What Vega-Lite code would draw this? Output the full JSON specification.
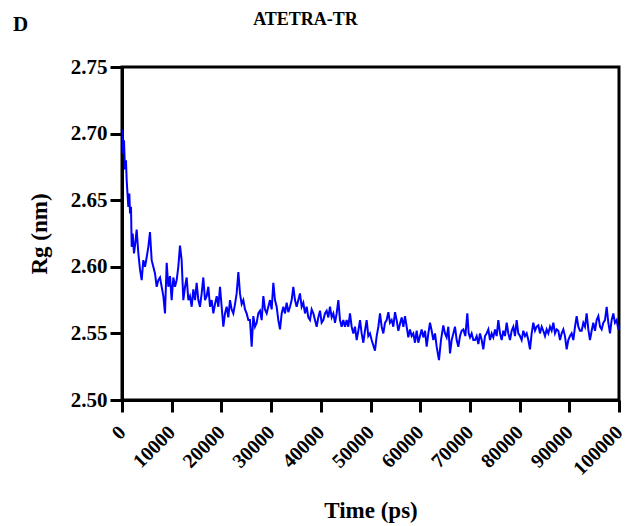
{
  "$schema": "https://vega.github.io/schema/vega-lite/v6.json",
  "autosize": {"type": "none"},
  "width": 497,
  "height": 333,
  "padding": {"left": 122, "top": 67, "right": 17, "bottom": 126},
  "background": "white",
  "title": {"text": "ATETRA-TR", "font": "Liberation Serif", "fontSize": 18, "fontWeight": "bold", "color": "black", "anchor": "middle", "dx": -65, "dy": 30, "offset": 0, "baseline": "alphabetic"},
  "config": {
    "view": {"stroke": "black", "strokeWidth": 3},
    "axis": {"labelFont": "Liberation Serif", "titleFont": "Liberation Serif", "labelFontWeight": "bold", "titleFontWeight": "bold", "labelColor": "black", "titleColor": "black", "domainColor": "black", "tickColor": "black", "domainWidth": 3, "tickWidth": 3, "tickSize": 12, "grid": false}
  },
  "data": {"values": [
    {"t":0,"rg":2.703},{"t":270,"rg":2.685},{"t":400,"rg":2.695},{"t":600,"rg":2.673},{"t":800,"rg":2.68},{"t":940,"rg":2.665},{"t":1270,"rg":2.645},{"t":1480,"rg":2.655},{"t":1610,"rg":2.64},{"t":1810,"rg":2.645},{"t":1950,"rg":2.615},{"t":2150,"rg":2.625},{"t":2410,"rg":2.61},{"t":2680,"rg":2.618},{"t":2950,"rg":2.628},{"t":3290,"rg":2.61},{"t":3620,"rg":2.598},{"t":3960,"rg":2.59},{"t":4290,"rg":2.605},{"t":4630,"rg":2.6},{"t":4960,"rg":2.607},{"t":5300,"rg":2.615},{"t":5630,"rg":2.626},{"t":5970,"rg":2.605},{"t":6300,"rg":2.6},{"t":6640,"rg":2.595},{"t":6980,"rg":2.585},{"t":7310,"rg":2.59},{"t":7650,"rg":2.592},{"t":7980,"rg":2.585},{"t":8320,"rg":2.578},{"t":8650,"rg":2.565},{"t":8990,"rg":2.603},{"t":9320,"rg":2.585},{"t":9660,"rg":2.593},{"t":9990,"rg":2.575},{"t":10330,"rg":2.592},{"t":10660,"rg":2.585},{"t":11000,"rg":2.59},{"t":11330,"rg":2.6},{"t":11670,"rg":2.616},{"t":12000,"rg":2.605},{"t":12340,"rg":2.575},{"t":12680,"rg":2.585},{"t":13010,"rg":2.592},{"t":13350,"rg":2.575},{"t":13680,"rg":2.578},{"t":14020,"rg":2.57},{"t":14350,"rg":2.583},{"t":14690,"rg":2.575},{"t":15020,"rg":2.588},{"t":15360,"rg":2.575},{"t":15690,"rg":2.57},{"t":16030,"rg":2.58},{"t":16360,"rg":2.592},{"t":16700,"rg":2.575},{"t":17030,"rg":2.578},{"t":17370,"rg":2.585},{"t":17710,"rg":2.57},{"t":18040,"rg":2.575},{"t":18380,"rg":2.565},{"t":18710,"rg":2.572},{"t":19050,"rg":2.578},{"t":19380,"rg":2.57},{"t":19720,"rg":2.585},{"t":20050,"rg":2.57},{"t":20390,"rg":2.555},{"t":20720,"rg":2.565},{"t":21060,"rg":2.57},{"t":21390,"rg":2.562},{"t":21730,"rg":2.575},{"t":22060,"rg":2.568},{"t":22400,"rg":2.565},{"t":22740,"rg":2.572},{"t":23070,"rg":2.58},{"t":23410,"rg":2.596},{"t":23740,"rg":2.58},{"t":24080,"rg":2.572},{"t":24410,"rg":2.575},{"t":24750,"rg":2.568},{"t":25080,"rg":2.565},{"t":25420,"rg":2.56},{"t":25750,"rg":2.56},{"t":26090,"rg":2.54},{"t":26420,"rg":2.563},{"t":26760,"rg":2.555},{"t":27100,"rg":2.558},{"t":27430,"rg":2.565},{"t":27770,"rg":2.567},{"t":28100,"rg":2.56},{"t":28440,"rg":2.578},{"t":28770,"rg":2.568},{"t":29110,"rg":2.565},{"t":29440,"rg":2.57},{"t":29780,"rg":2.575},{"t":30110,"rg":2.568},{"t":30450,"rg":2.588},{"t":30780,"rg":2.575},{"t":31120,"rg":2.57},{"t":31450,"rg":2.56},{"t":31790,"rg":2.553},{"t":32130,"rg":2.565},{"t":32460,"rg":2.57},{"t":32800,"rg":2.565},{"t":33130,"rg":2.573},{"t":33470,"rg":2.566},{"t":33800,"rg":2.57},{"t":34140,"rg":2.575},{"t":34470,"rg":2.585},{"t":34810,"rg":2.575},{"t":35140,"rg":2.57},{"t":35480,"rg":2.575},{"t":35810,"rg":2.58},{"t":36150,"rg":2.57},{"t":36480,"rg":2.573},{"t":36820,"rg":2.565},{"t":37160,"rg":2.57},{"t":37490,"rg":2.562},{"t":37830,"rg":2.56},{"t":38160,"rg":2.568},{"t":38500,"rg":2.565},{"t":38830,"rg":2.56},{"t":39170,"rg":2.555},{"t":39500,"rg":2.562},{"t":39840,"rg":2.567},{"t":40170,"rg":2.558},{"t":40510,"rg":2.56},{"t":40840,"rg":2.565},{"t":41180,"rg":2.567},{"t":41510,"rg":2.562},{"t":41850,"rg":2.57},{"t":42190,"rg":2.562},{"t":42520,"rg":2.565},{"t":42860,"rg":2.558},{"t":43190,"rg":2.565},{"t":43530,"rg":2.575},{"t":43860,"rg":2.56},{"t":44200,"rg":2.555},{"t":44530,"rg":2.56},{"t":44870,"rg":2.555},{"t":45200,"rg":2.56},{"t":45540,"rg":2.555},{"t":45870,"rg":2.565},{"t":46210,"rg":2.555},{"t":46540,"rg":2.55},{"t":46880,"rg":2.555},{"t":47220,"rg":2.545},{"t":47550,"rg":2.552},{"t":47890,"rg":2.56},{"t":48220,"rg":2.55},{"t":48560,"rg":2.543},{"t":48890,"rg":2.552},{"t":49230,"rg":2.56},{"t":49560,"rg":2.548},{"t":49900,"rg":2.55},
    {"t":50230,"rg":2.545},{"t":50900,"rg":2.537},{"t":51240,"rg":2.548},{"t":51580,"rg":2.555},{"t":51910,"rg":2.565},{"t":52250,"rg":2.555},{"t":52580,"rg":2.55},{"t":52920,"rg":2.558},{"t":53250,"rg":2.56},{"t":53590,"rg":2.566},{"t":53920,"rg":2.558},{"t":54260,"rg":2.56},{"t":54590,"rg":2.555},{"t":54930,"rg":2.566},{"t":55260,"rg":2.56},{"t":55600,"rg":2.552},{"t":55930,"rg":2.557},{"t":56270,"rg":2.562},{"t":56610,"rg":2.555},{"t":56940,"rg":2.563},{"t":57280,"rg":2.555},{"t":57610,"rg":2.547},{"t":57950,"rg":2.553},{"t":58280,"rg":2.548},{"t":58620,"rg":2.55},{"t":58950,"rg":2.543},{"t":59290,"rg":2.552},{"t":59620,"rg":2.543},{"t":59960,"rg":2.548},{"t":60290,"rg":2.553},{"t":60630,"rg":2.547},{"t":60970,"rg":2.552},{"t":61300,"rg":2.54},{"t":61640,"rg":2.55},{"t":61970,"rg":2.558},{"t":62310,"rg":2.552},{"t":62640,"rg":2.545},{"t":62980,"rg":2.55},{"t":63310,"rg":2.54},{"t":63780,"rg":2.53},{"t":64180,"rg":2.545},{"t":64650,"rg":2.556},{"t":64990,"rg":2.55},{"t":65320,"rg":2.547},{"t":65660,"rg":2.555},{"t":66000,"rg":2.535},{"t":66330,"rg":2.545},{"t":66670,"rg":2.55},{"t":67000,"rg":2.555},{"t":67340,"rg":2.545},{"t":67670,"rg":2.54},{"t":68010,"rg":2.548},{"t":68340,"rg":2.552},{"t":68680,"rg":2.553},{"t":69080,"rg":2.548},{"t":69480,"rg":2.565},{"t":69750,"rg":2.55},{"t":70020,"rg":2.547},{"t":70350,"rg":2.55},{"t":70690,"rg":2.545},{"t":71030,"rg":2.545},{"t":71360,"rg":2.548},{"t":71700,"rg":2.542},{"t":72030,"rg":2.55},{"t":72370,"rg":2.545},{"t":72700,"rg":2.538},{"t":73040,"rg":2.548},{"t":73370,"rg":2.55},{"t":73710,"rg":2.553},{"t":74040,"rg":2.545},{"t":74380,"rg":2.55},{"t":74710,"rg":2.547},{"t":75050,"rg":2.553},{"t":75380,"rg":2.548},{"t":75720,"rg":2.56},{"t":76060,"rg":2.55},{"t":76390,"rg":2.545},{"t":76730,"rg":2.552},{"t":77060,"rg":2.548},{"t":77400,"rg":2.558},{"t":77730,"rg":2.55},{"t":78070,"rg":2.545},{"t":78400,"rg":2.552},{"t":78740,"rg":2.555},{"t":79070,"rg":2.548},{"t":79410,"rg":2.56},{"t":79740,"rg":2.55},{"t":80080,"rg":2.548},{"t":80410,"rg":2.545},{"t":80750,"rg":2.552},{"t":81090,"rg":2.548},{"t":81420,"rg":2.55},{"t":81760,"rg":2.545},{"t":82090,"rg":2.538},{"t":82430,"rg":2.55},{"t":82760,"rg":2.558},{"t":83100,"rg":2.552},{"t":83430,"rg":2.555},{"t":83770,"rg":2.556},{"t":84100,"rg":2.55},{"t":84440,"rg":2.555},{"t":84770,"rg":2.552},{"t":85110,"rg":2.548},{"t":85440,"rg":2.553},{"t":85780,"rg":2.55},{"t":86120,"rg":2.555},{"t":86450,"rg":2.552},{"t":86790,"rg":2.558},{"t":87120,"rg":2.55},{"t":87460,"rg":2.553},{"t":87790,"rg":2.552},{"t":88130,"rg":2.545},{"t":88460,"rg":2.55},{"t":88800,"rg":2.553},{"t":89130,"rg":2.548},{"t":89470,"rg":2.538},{"t":89800,"rg":2.545},{"t":90140,"rg":2.548},{"t":90470,"rg":2.55},{"t":90810,"rg":2.545},{"t":91150,"rg":2.555},{"t":91480,"rg":2.563},{"t":91820,"rg":2.555},{"t":92150,"rg":2.552},{"t":92490,"rg":2.552},{"t":92820,"rg":2.558},{"t":93160,"rg":2.555},{"t":93490,"rg":2.565},{"t":93830,"rg":2.553},{"t":94160,"rg":2.545},{"t":94500,"rg":2.552},{"t":94830,"rg":2.558},{"t":95170,"rg":2.552},{"t":95500,"rg":2.56},{"t":95840,"rg":2.563},{"t":96180,"rg":2.555},{"t":96510,"rg":2.553},{"t":96850,"rg":2.558},{"t":97180,"rg":2.56},{"t":97520,"rg":2.57},{"t":97850,"rg":2.558},{"t":98190,"rg":2.55},{"t":98520,"rg":2.56},{"t":98860,"rg":2.565},{"t":99190,"rg":2.558},{"t":99530,"rg":2.56},{"t":99860,"rg":2.553},{"t":100000,"rg":2.555}
  ]},
  "layer": [
    {
      "mark": {"type": "line", "color": "#0000FF", "strokeWidth": 2, "clip": true},
      "encoding": {
        "x": {"field": "t", "type": "quantitative", "scale": {"domain": [0, 100000], "nice": false},
          "axis": {"values": [0,10000,20000,30000,40000,50000,60000,70000,80000,90000,100000], "format": "d", "labelAngle": -45, "labelAlign": "right", "labelBaseline": "middle", "labelFontSize": 20, "labelPadding": 17, "labelOverlap": false, "labelBound": false, "labelFlush": false, "title": "Time (ps)", "titleFontSize": 23, "titlePadding": 21}},
        "y": {"field": "rg", "type": "quantitative", "scale": {"domain": [2.5, 2.75], "nice": false, "zero": false},
          "axis": {"values": [2.5,2.55,2.6,2.65,2.7,2.75], "format": ".2f", "labelFontSize": 21, "labelPadding": 3, "labelOverlap": false, "labelFlush": false, "title": "Rg (nm)", "titleFontSize": 23, "titlePadding": 19}}
      }
    },
    {
      "mark": {"type": "line", "opacity": 0},
      "encoding": {
        "x": {"field": "t", "type": "quantitative",
          "axis": {"orient": "top", "domain": false, "ticks": false, "labels": false, "title": "D", "titleFontSize": 21, "titleX": -102, "titleY": -37, "titleAlign": "center", "titleBaseline": "alphabetic", "titleAngle": 0}},
        "y": {"field": "rg", "type": "quantitative"}
      }
    }
  ],
  "resolve": {"axis": {"x": "independent"}}
}
